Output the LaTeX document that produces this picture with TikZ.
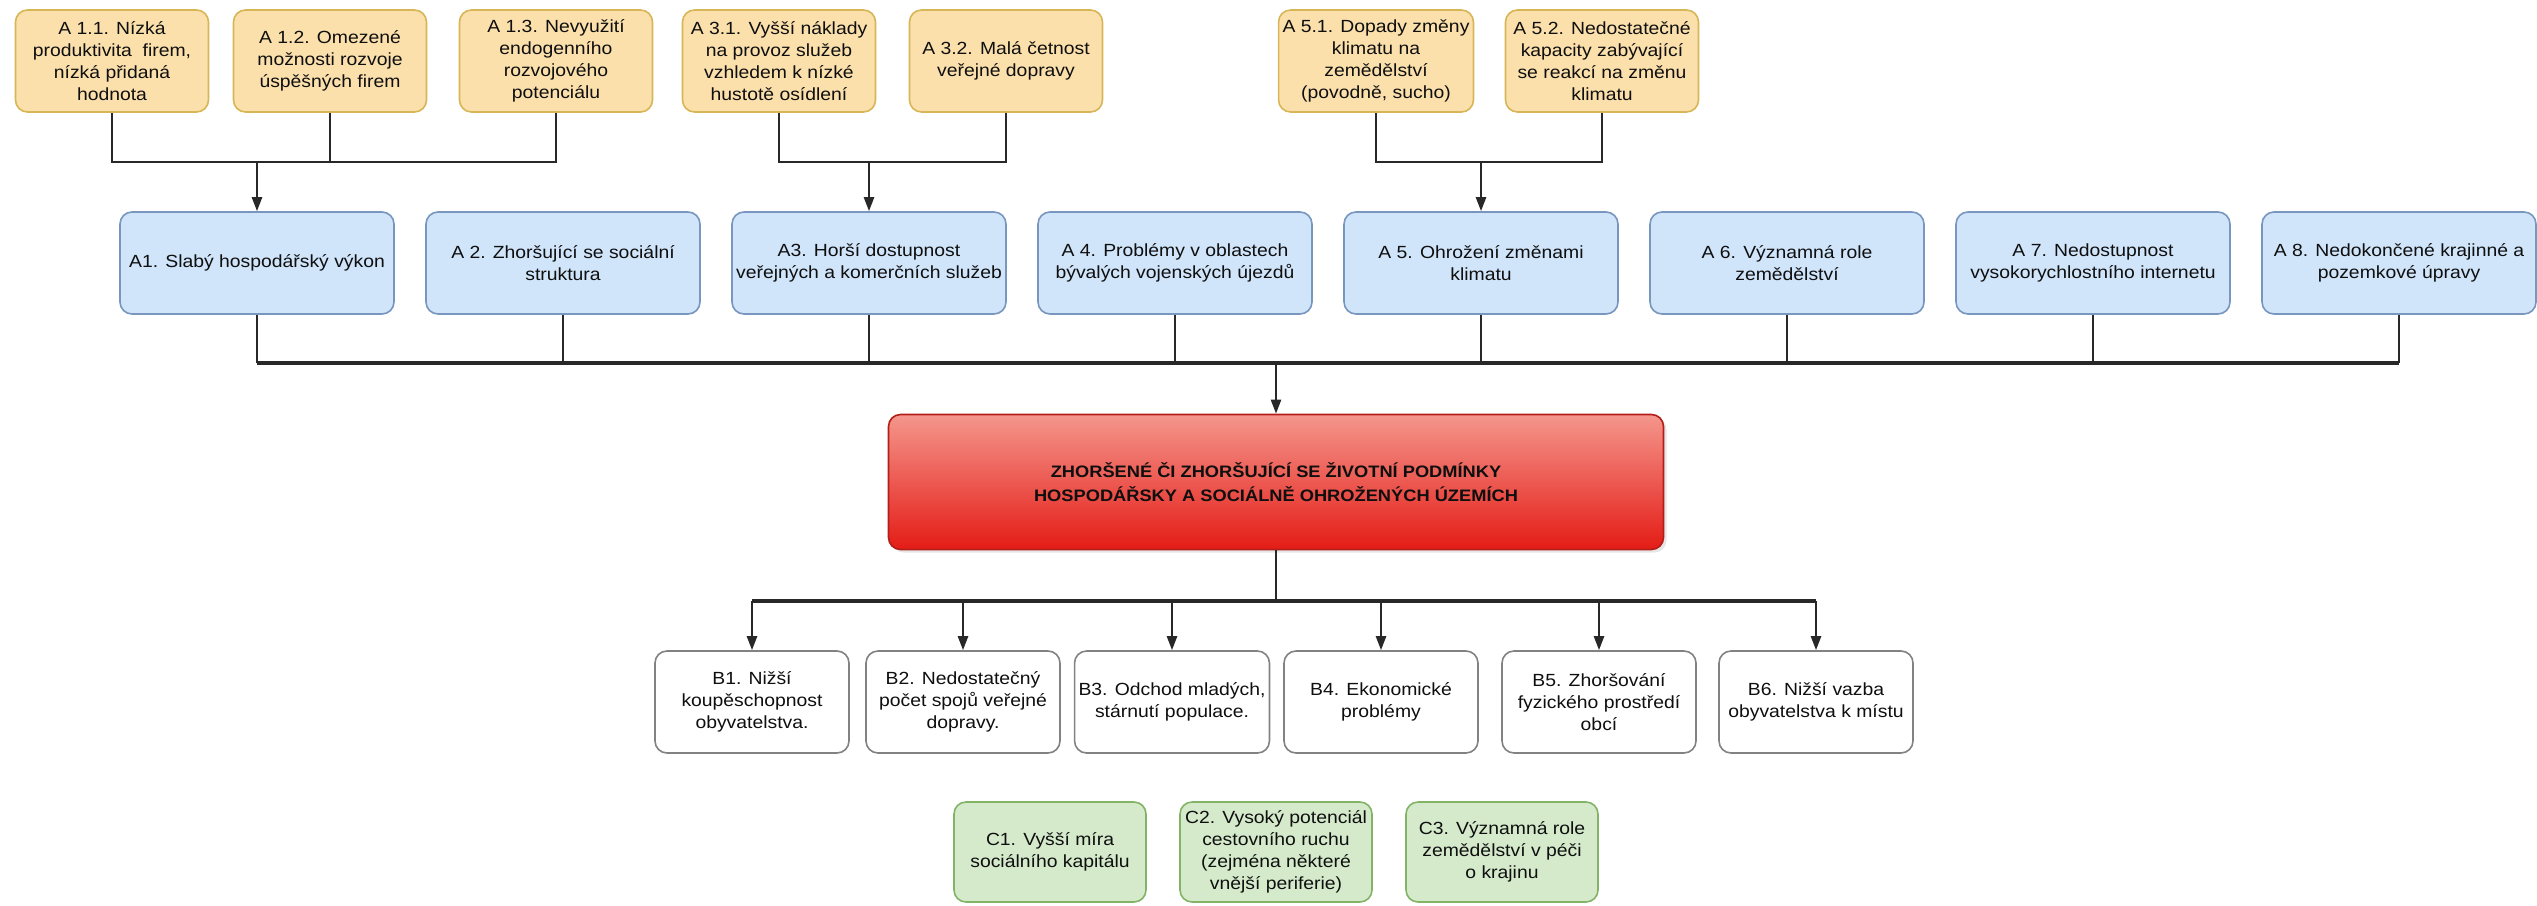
\documentclass[tikz,border=0pt]{standalone}
\usepackage{fontspec}
\setmainfont[FakeStretch=1.1]{Liberation Sans}
\usetikzlibrary{arrows.meta,shadows}
\definecolor{ylfill}{RGB}{251,224,172}
\definecolor{yldraw}{RGB}{214,182,86}
\definecolor{blfill}{RGB}{208,228,250}
\definecolor{bldraw}{RGB}{120,150,190}
\definecolor{gnfill}{RGB}{212,234,203}
\definecolor{gndraw}{RGB}{130,179,102}
\definecolor{bwdraw}{RGB}{130,130,130}
\definecolor{rdtop}{RGB}{244,150,140}
\definecolor{rdbot}{RGB}{228,28,22}
\definecolor{rddraw}{RGB}{180,30,25}
\definecolor{lncol}{RGB}{40,40,40}
\definecolor{txcol}{RGB}{15,15,15}
\begin{document}
\begin{tikzpicture}[x=0.5pt,y=-0.5pt,
 box/.style={rounded corners=6pt, align=center, inner sep=2pt, text=txcol, line width=0.8pt, font=\fontsize{8.8}{11}\selectfont},
 ybox/.style={box, fill=ylfill, draw=yldraw, minimum width=96.5pt, minimum height=51pt},
 abox/.style={box, fill=blfill, draw=bldraw, minimum width=137pt, minimum height=51pt},
 bbox/.style={box, fill=white, draw=bwdraw, minimum width=97pt, minimum height=51pt},
 cbox/.style={box, fill=gnfill, draw=gndraw, minimum width=96pt, minimum height=50pt},
 rbox/.style={box, top color=rdtop, bottom color=rdbot, draw=rddraw, minimum width=387.5pt, minimum height=67.5pt, font=\fontsize{8.3}{12}\selectfont\bfseries, drop shadow={opacity=0.2, shadow xshift=1.5pt, shadow yshift=-1.5pt}},
 conn/.style={draw=lncol, line width=1.2pt},
 bus/.style={draw=lncol, line width=1.6pt},
 arr/.style={conn, -{Triangle[length=7pt,width=5pt]}},
]
\useasboundingbox (0,0) rectangle (2537,905);

% top row
\node[ybox] (y11) at (112,61) {A 1.1. Nízká\\produktivita\ \ firem,\\nízká přidaná\\hodnota};
\node[ybox] (y12) at (330,61) {A 1.2. Omezené\\možnosti rozvoje\\úspěšných firem};
\node[ybox] (y13) at (556,61) {A 1.3. Nevyužití\\endogenního\\rozvojového\\potenciálu};
\node[ybox] (y31) at (779,61) {A 3.1. Vyšší náklady\\na provoz služeb\\vzhledem k nízké\\hustotě osídlení};
\node[ybox] (y32) at (1006,61) {A 3.2. Malá četnost\\veřejné dopravy};
\node[ybox] (y51) at (1376,61) {A 5.1. Dopady změny\\klimatu na\\zemědělství\\(povodně, sucho)};
\node[ybox] (y52) at (1602,61) {A 5.2. Nedostatečné\\kapacity zabývající\\se reakcí na změnu\\klimatu};

% A row
\node[abox] (a1) at (257,263) {A1. Slabý hospodářský výkon};
\node[abox] (a2) at (563,263) {A 2. Zhoršující se sociální\\struktura};
\node[abox] (a3) at (869,263) {A3. Horší dostupnost\\veřejných a komerčních služeb};
\node[abox] (a4) at (1175,263) {A 4. Problémy v oblastech\\bývalých vojenských újezdů};
\node[abox] (a5) at (1481,263) {A 5. Ohrožení změnami\\klimatu};
\node[abox] (a6) at (1787,263) {A 6. Významná role\\zemědělství};
\node[abox] (a7) at (2093,263) {A 7. Nedostupnost\\vysokorychlostního internetu};
\node[abox] (a8) at (2399,263) {A 8. Nedokončené krajinné a\\pozemkové úpravy};

% central
\node[rbox] (red) at (1276,482) {ZHORŠENÉ ČI ZHORŠUJÍCÍ SE ŽIVOTNÍ PODMÍNKY\\HOSPODÁŘSKY A SOCIÁLNĚ OHROŽENÝCH ÚZEMÍCH};

% B row
\node[bbox] (b1) at (752,702) {B1. Nižší\\koupěschopnost\\obyvatelstva.};
\node[bbox] (b2) at (963,702) {B2. Nedostatečný\\počet spojů veřejné\\dopravy.};
\node[bbox] (b3) at (1172,702) {B3. Odchod mladých,\\stárnutí populace.};
\node[bbox] (b4) at (1381,702) {B4. Ekonomické\\problémy};
\node[bbox] (b5) at (1599,702) {B5. Zhoršování\\fyzického prostředí\\obcí};
\node[bbox] (b6) at (1816,702) {B6. Nižší vazba\\obyvatelstva k místu};

% C row
\node[cbox] (c1) at (1050,852) {C1. Vyšší míra\\sociálního kapitálu};
\node[cbox] (c2) at (1276,852) {C2. Vysoký potenciál\\cestovního ruchu\\(zejména některé\\vnější periferie)};
\node[cbox] (c3) at (1502,852) {C3. Významná role\\zemědělství v péči\\o krajinu};

% junctions
\coordinate (j1) at (257,162);
\coordinate (j3) at (869,162);
\coordinate (j5) at (1481,162);
\coordinate (jm) at (1276,363);
\coordinate (jb) at (1276,601);

% top groups
\draw[conn] (y11.south) |- (j1);
\draw[conn] (y13.south) |- (j1);
\draw[conn] (y12.south) -- (y12.south |- j1);
\draw[arr] (j1) -- (a1.north);
\draw[conn] (y31.south) |- (j3);
\draw[conn] (y32.south) |- (j3);
\draw[arr] (j3) -- (a3.north);
\draw[conn] (y51.south) |- (j5);
\draw[conn] (y52.south) |- (j5);
\draw[arr] (j5) -- (a5.north);

% A bus
\foreach \n in {a2,a3,a4,a5,a6,a7}{\draw[conn] (\n.south) -- (\n.south |- jm);}
\draw[conn] (a1.south) -- (a1.south |- jm);
\draw[conn] (a8.south) -- (a8.south |- jm);
\draw[bus] (a1.south |- jm) -- (a8.south |- jm);
\draw[arr] (jm) -- (red.north);

% B bus
\draw[conn] (red.south) -- (jb);
\draw[bus] (b1.north |- jb) -- (b6.north |- jb);
\foreach \n in {b1,b2,b3,b4,b5,b6}{\draw[arr] (\n.north |- jb) -- (\n.north);}
\end{tikzpicture}
\end{document}
